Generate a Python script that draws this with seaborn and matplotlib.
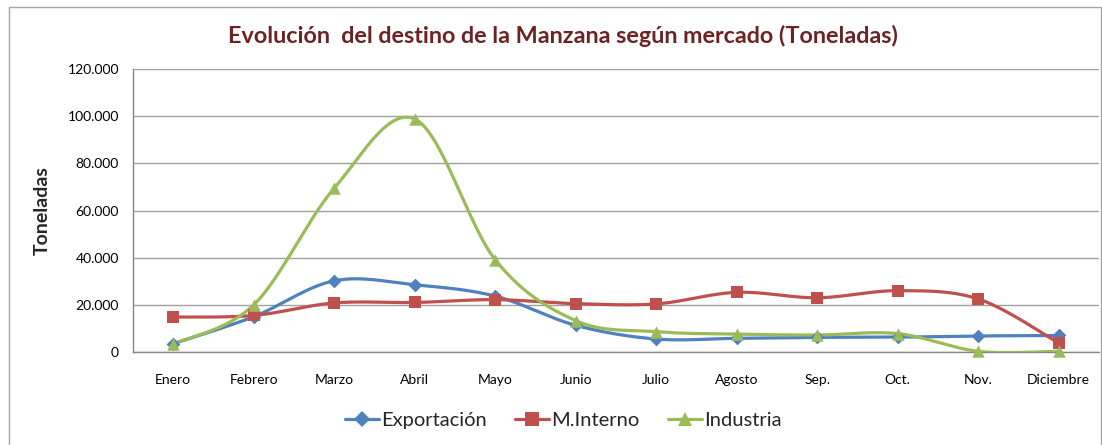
import numpy as np
import pandas as pd
import matplotlib
matplotlib.use("Agg")
import matplotlib.pyplot as plt
from matplotlib.lines import Line2D
from matplotlib.patches import Rectangle
from matplotlib.ticker import FuncFormatter, MultipleLocator
import seaborn as sns

months = ["Enero", "Febrero", "Marzo", "Abril", "Mayo", "Junio", "Julio",
          "Agosto", "Sep.", "Oct.", "Nov.", "Diciembre"]
exportacion = [3500, 15000, 30200, 28500, 23700, 11300, 5500, 5800, 6200, 6300, 6800, 7000]
m_interno = [14800, 15500, 20800, 21000, 22200, 20500, 20400, 25300, 23000, 26000, 22500, 3800]
industria = [3400, 20000, 69500, 98800, 39100, 13300, 8600, 7600, 7200, 7800, 300, 300]

series_names = ["Exportación", "M.Interno", "Industria"]
series_values = [exportacion, m_interno, industria]
colors = ["#4F81BD", "#C0504D", "#9BBB59"]
markers = ["D", "s", "^"]
msizes = [7, 9, 9]

sns.set_theme(style="white")
plt.rcParams["font.family"] = ["Lato", "DejaVu Sans"]


def smooth(xv, yv, n=30):
    # Excel-style smoothed line (Catmull-Rom / cubic Bezier, tension 1/6)
    pts = np.column_stack([xv, yv]).astype(float)
    P = np.vstack([pts[0], pts, pts[-1]])
    out = []
    t = np.linspace(0, 1, n)[:, None]
    for i in range(1, len(P) - 2):
        p0, p1, p2, p3 = P[i - 1], P[i], P[i + 1], P[i + 2]
        c1 = p1 + (p2 - p0) / 6.0
        c2 = p2 - (p3 - p1) / 6.0
        seg = ((1 - t) ** 3) * p1 + 3 * ((1 - t) ** 2) * t * c1 + 3 * (1 - t) * t ** 2 * c2 + t ** 3 * p2
        out.append(seg if i == 1 else seg[1:])
    out = np.vstack(out)
    return out[:, 0], out[:, 1]


fig = plt.figure(figsize=(11.02, 4.45), dpi=100)
fig.patches.append(Rectangle((9 / 1102, -0.01), (1101 - 9) / 1102, 1 - 7 / 445 + 0.01,
                             transform=fig.transFigure, fill=False,
                             edgecolor="#A6A6A6", linewidth=1.0, zorder=0))

ax = fig.add_axes([133 / 1102, 1 - 352 / 445, (1099 - 133) / 1102, (352 - 69) / 445])

xpos = np.arange(len(months))
for name, vals, c, m, ms in zip(series_names, series_values, colors, markers, msizes):
    sx, sy = smooth(xpos, vals)
    sdf = pd.DataFrame({"x": sx, "y": sy})
    sns.lineplot(data=sdf, x="x", y="y", sort=False, estimator=None, ax=ax,
                 color=c, linewidth=2.3, zorder=3)
    pdf = pd.DataFrame({"x": xpos, "y": vals})
    sns.scatterplot(data=pdf, x="x", y="y", ax=ax, color=c, marker=m,
                    s=ms ** 2, edgecolor=c, linewidth=0, zorder=4, clip_on=False)

ax.set_xlim(-0.5, len(months) - 0.5)
ax.set_ylim(0, 120000)
ax.yaxis.set_major_locator(MultipleLocator(20000))
ax.yaxis.set_major_formatter(FuncFormatter(lambda v, p: "0" if v == 0 else f"{int(v):,}".replace(",", ".")))
ax.set_xticks(xpos)
ax.set_xticklabels(months)
ax.set_xticks(np.arange(-0.5, len(months) + 0.5, 1), minor=True)
ax.tick_params(axis="x", which="major", length=0, pad=16, labelsize=10, colors="black")
ax.tick_params(axis="x", which="minor", length=5, width=1, color="#868686", direction="out")
ax.tick_params(axis="y", length=0, pad=10, labelsize=10, colors="black")
ax.grid(axis="y", color="#A0A0A0", linewidth=1)
ax.set_axisbelow(True)
for s in ["top", "right"]:
    ax.spines[s].set_visible(False)
for s in ["left", "bottom"]:
    ax.spines[s].set_color("#868686")
    ax.spines[s].set_linewidth(1)
ax.set_xlabel("")
ax.set_ylabel("Toneladas", fontsize=14, fontweight="bold", labelpad=12)

fig.text(563 / 1102, 1 - 36 / 445,
         "Evolución  del destino de la Manzana según mercado (Toneladas)",
         ha="center", va="center", fontsize=16.8, fontweight="bold", color="#6B2323")

handles = [Line2D([0], [0], color=c, marker=m, markersize=ms + 1, linewidth=2.3, markeredgewidth=0)
           for c, m, ms in zip(colors, markers, msizes)]
fig.legend(handles, series_names, loc="center", bbox_to_anchor=(563 / 1102, 1 - 420 / 445),
           ncol=3, frameon=False, fontsize=14.5, handlelength=1.7, handletextpad=0.1,
           columnspacing=1.4)

fig.savefig("out.png", dpi=100)
